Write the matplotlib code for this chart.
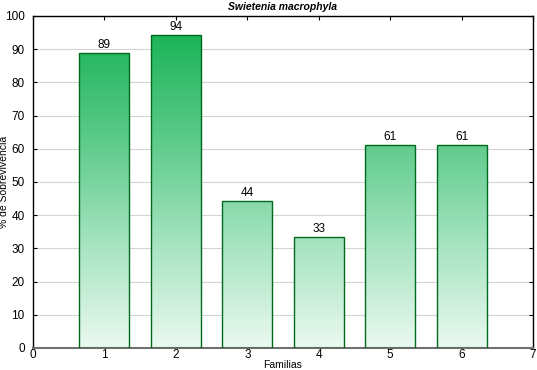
import matplotlib.pyplot as plt
import numpy as np
from matplotlib.colors import LinearSegmentedColormap

familias = [1, 2, 3, 4, 5, 6]
sobrevivencia = [88.9, 94.4, 44.4, 33.3, 61.1, 61.1]
etiquetas = ["89", "94", "44", "33", "61", "61"]

plt.rcParams['font.family'] = ['Liberation Sans', 'DejaVu Sans']

fig = plt.figure(figsize=(5.37, 3.70), dpi=100)
ax = fig.add_axes([33 / 537, 22 / 370, 500 / 537, 332 / 370])

# gradient from pale at the bottom to saturated green at the top (by absolute height)
cmap = LinearSegmentedColormap.from_list(
    'verde', [(0.0, '#eaf9f0'), (0.33, '#a2e2be'), (0.6, '#62cc8e'), (1.0, '#10b050')])
grad = np.linspace(0, 1, 256).reshape(-1, 1)

bars = ax.bar(familias, sobrevivencia, width=0.70, facecolor='none',
              edgecolor='#006b1e', linewidth=1.0, zorder=3)
for b, lab in zip(bars, etiquetas):
    im = ax.imshow(grad, cmap=cmap, origin='lower', aspect='auto',
                   extent=[0, 7, 0, 100], zorder=2, interpolation='bilinear')
    im.set_clip_path(b)
    ax.text(b.get_x() + b.get_width() / 2, b.get_height() + 0.6, lab,
            ha='center', va='bottom', fontsize=8.5, color='black', zorder=4)

ax.set_xlim(0, 7)
ax.set_ylim(0, 100)
ax.set_xticks(range(0, 8))
ax.set_yticks(range(0, 101, 10))
ax.yaxis.grid(True, color='#d4d4d4', linewidth=0.8, zorder=0)
ax.set_axisbelow(True)
ax.tick_params(direction='in', length=3, labelsize=8.5, top=True, right=True)
ax.tick_params(axis='y', pad=6)
ax.tick_params(axis='x', pad=1)
for s in ['top', 'left', 'right']:
    ax.spines[s].set_color('black')
    ax.spines[s].set_linewidth(1.0)
ax.spines['bottom'].set_color('#707070')
ax.spines['bottom'].set_linewidth(1.5)

ax.set_xlabel('Familias', fontsize=7.5, va='center')
ax.xaxis.set_label_coords(0.5, -0.05)
ax.set_ylabel('% de Sobrevivencia', fontsize=7.5, va='center')
ax.yaxis.set_label_coords(-0.057, 0.5)
ax.set_title('Swietenia macrophyla', fontsize=7.5, fontweight='bold',
             style='italic', pad=4)

fig.savefig('out.png', dpi=100)
